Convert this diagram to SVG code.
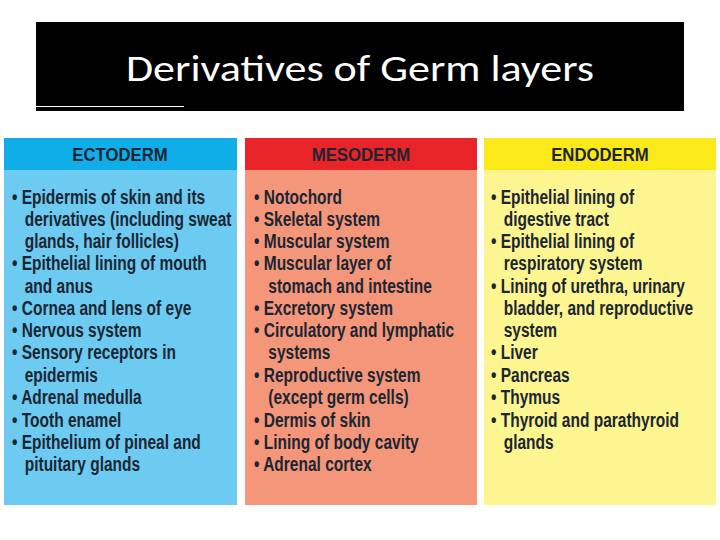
<svg xmlns="http://www.w3.org/2000/svg" width="720" height="540" viewBox="0 0 720 540">
<style>
.t{font-family:"Liberation Sans",Arial,sans-serif;font-weight:bold;font-size:19.5px;fill:#1c2633}
.h{font-family:"Liberation Sans",Arial,sans-serif;font-weight:bold;font-size:18px;fill:#1c2633;text-anchor:middle}
</style>
<rect width="720" height="540" fill="#fff"/>
<g id="title">
<rect x="36" y="22" width="648" height="89" fill="#000"/>
<line x1="36" y1="106.5" x2="184" y2="106.5" stroke="#fff" stroke-width="1"/>
<text x="360" y="81" text-anchor="middle" font-family="Calibri,'Liberation Sans',sans-serif" font-size="37" fill="#fff" textLength="468" lengthAdjust="spacingAndGlyphs">Derivatives of Germ layers</text>
</g>
<g id="ectoderm">
<rect x="4" y="138" width="233" height="367" fill="#6dcaf1"/>
<rect x="4" y="138" width="233" height="32" fill="#10aee8"/>
<text class="h" x="120" y="161" transform="translate(120,0) scale(0.93,1) translate(-120,0)">ECTODERM</text>
<g transform="translate(12,0) scale(0.795,1)">
<text class="t" x="0" y="204">• Epidermis of skin and its</text>
<text class="t" x="16" y="226">derivatives (including sweat</text>
<text class="t" x="16" y="248">glands, hair follicles)</text>
<text class="t" x="0" y="270">• Epithelial lining of mouth</text>
<text class="t" x="16" y="293">and anus</text>
<text class="t" x="0" y="315">• Cornea and lens of eye</text>
<text class="t" x="0" y="337">• Nervous system</text>
<text class="t" x="0" y="359">• Sensory receptors in</text>
<text class="t" x="16" y="382">epidermis</text>
<text class="t" x="0" y="404">• Adrenal medulla</text>
<text class="t" x="0" y="427">• Tooth enamel</text>
<text class="t" x="0" y="449">• Epithelium of pineal and</text>
<text class="t" x="16" y="471">pituitary glands</text>
</g>
</g>
<g id="mesoderm">
<rect x="245" y="138" width="232" height="367" fill="#f3967a"/>
<rect x="245" y="138" width="232" height="32" fill="#e82428"/>
<text class="h" x="361" y="161" transform="translate(361,0) scale(0.93,1) translate(-361,0)">MESODERM</text>
<g transform="translate(254,0) scale(0.795,1)">
<text class="t" x="0" y="204">• Notochord</text>
<text class="t" x="0" y="226">• Skeletal system</text>
<text class="t" x="0" y="248">• Muscular system</text>
<text class="t" x="0" y="270">• Muscular layer of</text>
<text class="t" x="18" y="293">stomach and intestine</text>
<text class="t" x="0" y="315">• Excretory system</text>
<text class="t" x="0" y="337">• Circulatory and lymphatic</text>
<text class="t" x="18" y="359">systems</text>
<text class="t" x="0" y="382">• Reproductive system</text>
<text class="t" x="18" y="404">(except germ cells)</text>
<text class="t" x="0" y="427">• Dermis of skin</text>
<text class="t" x="0" y="449">• Lining of body cavity</text>
<text class="t" x="0" y="471">• Adrenal cortex</text>
</g>
</g>
<g id="endoderm">
<rect x="484" y="138" width="232" height="367" fill="#fdf590"/>
<rect x="484" y="138" width="232" height="32" fill="#fbe91a"/>
<text class="h" x="600" y="161" transform="translate(600,0) scale(0.93,1) translate(-600,0)">ENDODERM</text>
<g transform="translate(491,0) scale(0.795,1)">
<text class="t" x="0" y="204">• Epithelial lining of</text>
<text class="t" x="16" y="226">digestive tract</text>
<text class="t" x="0" y="248">• Epithelial lining of</text>
<text class="t" x="16" y="270">respiratory system</text>
<text class="t" x="0" y="293">• Lining of urethra, urinary</text>
<text class="t" x="16" y="315">bladder, and reproductive</text>
<text class="t" x="16" y="337">system</text>
<text class="t" x="0" y="359">• Liver</text>
<text class="t" x="0" y="382">• Pancreas</text>
<text class="t" x="0" y="404">• Thymus</text>
<text class="t" x="0" y="427">• Thyroid and parathyroid</text>
<text class="t" x="16" y="449">glands</text>
</g>
</g>
<g id="connectors"/>
</svg>
